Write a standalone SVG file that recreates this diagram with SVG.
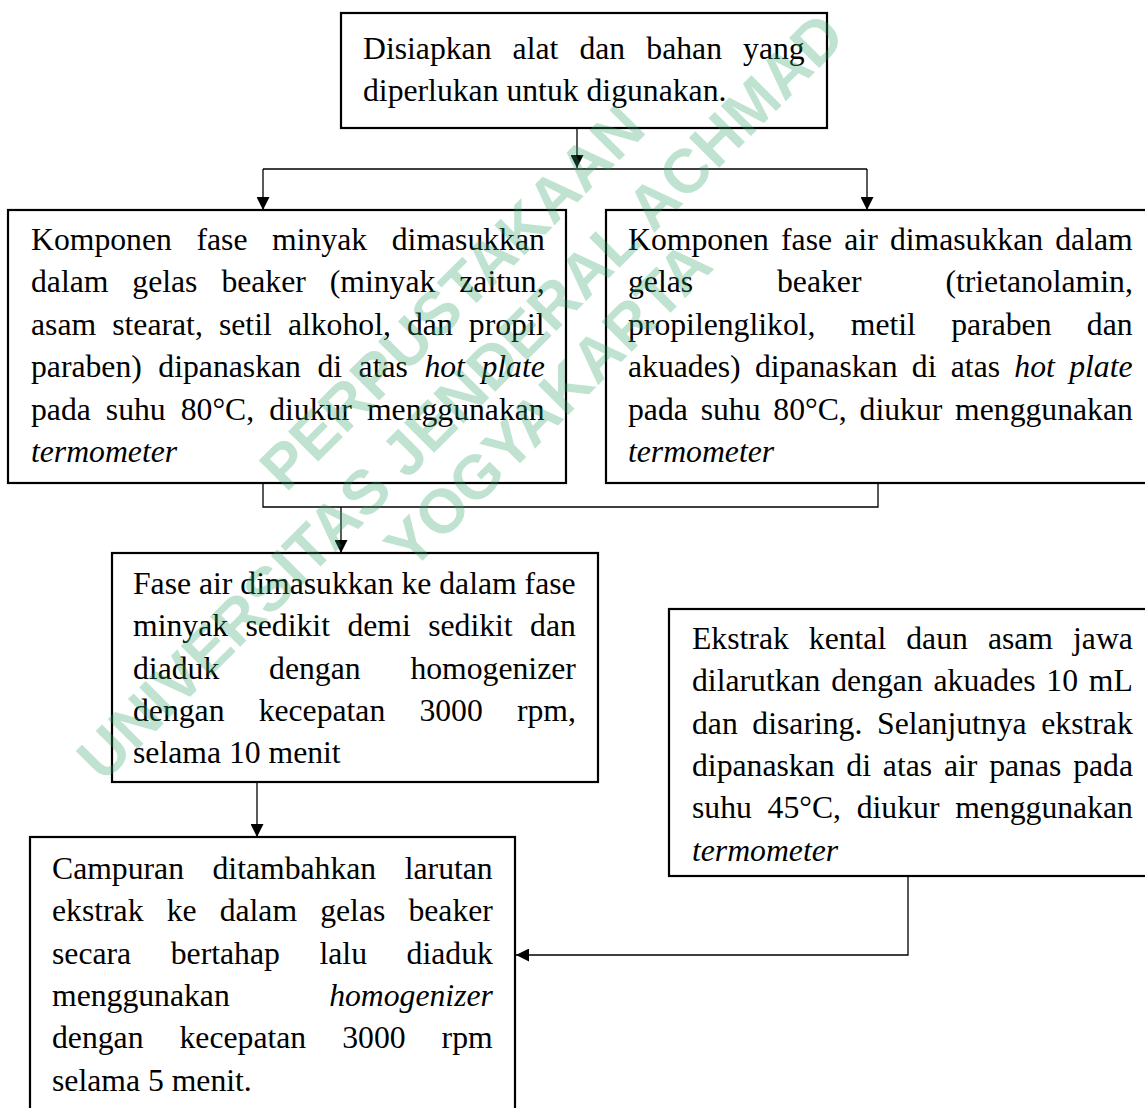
<svg xmlns="http://www.w3.org/2000/svg" width="1145" height="1108" viewBox="0 0 1145 1108">
<style>
.bg{fill:#fff}
.box{fill:none;stroke:#000;stroke-width:2.2}
.con{fill:none;stroke:#000;stroke-width:1.3}
.t{font-family:"Liberation Serif","Times New Roman",serif;font-size:31.7px;fill:#000}
.i{font-style:italic}
.wm{font-family:"Liberation Sans",Arial,sans-serif;font-weight:bold;font-size:62px;fill:#2ea064;fill-opacity:0.3;text-anchor:middle}
</style>
<defs>
<marker id="ah" markerUnits="userSpaceOnUse" markerWidth="13" markerHeight="13" refX="13" refY="6.5" orient="auto">
<path d="M0,0 L13,6.5 L0,13 z" fill="#000"/>
</marker>
</defs>
<rect class="bg" x="0" y="0" width="1145" height="1108"/>

<g id="connectors">
<path class="con" d="M577,128 V168" marker-end="url(#ah)"/>
<path class="con" d="M263,169 H867"/>
<path class="con" d="M263,169 V210" marker-end="url(#ah)"/>
<path class="con" d="M867,169 V210" marker-end="url(#ah)"/>
<path class="con" d="M263,483 V507 H878 V483"/>
<path class="con" d="M341,507 V553" marker-end="url(#ah)"/>
<path class="con" d="M257,782 V837" marker-end="url(#ah)"/>
<path class="con" d="M908,876 V955 H516" marker-end="url(#ah)"/>
</g>

<g id="n1">
<rect class="box" x="341" y="13" width="486" height="115"/>
<text class="t" x="363" y="59" style="word-spacing:13.2px">Disiapkan alat dan bahan yang</text>
<text class="t" x="363" y="101">diperlukan untuk digunakan.</text>
</g>

<g id="n2">
<rect class="box" x="8" y="210" width="558" height="273"/>
<text class="t" x="31" y="250" style="word-spacing:16.7px">Komponen fase minyak dimasukkan</text>
<text class="t" x="31" y="292.4" style="word-spacing:16.0px">dalam gelas beaker (minyak zaitun,</text>
<text class="t" x="31" y="334.8" style="word-spacing:8.2px">asam stearat, setil alkohol, dan propil</text>
<text class="t" x="31" y="377.2" style="word-spacing:8.6px">paraben) dipanaskan di atas <tspan class="i">hot plate</tspan></text>
<text class="t" x="31" y="419.6" style="word-spacing:7.1px">pada suhu 80°C, diukur menggunakan</text>
<text class="t i" x="31" y="462">termometer</text>
</g>

<g id="n3">
<rect class="box" x="606" y="210" width="560" height="273"/>
<text class="t" x="628" y="250" style="word-spacing:4.3px">Komponen fase air dimasukkan dalam</text>
<text class="t" x="628" y="292.4" style="word-spacing:76px">gelas beaker (trietanolamin,</text>
<text class="t" x="628" y="334.8" style="word-spacing:27.4px">propilenglikol, metil paraben dan</text>
<text class="t" x="628" y="377.2" style="word-spacing:6.4px">akuades) dipanaskan di atas <tspan class="i">hot plate</tspan></text>
<text class="t" x="628" y="419.6" style="word-spacing:4.9px">pada suhu 80°C, diukur menggunakan</text>
<text class="t i" x="628" y="462">termometer</text>
</g>

<g id="n4">
<rect class="box" x="112" y="553" width="486" height="229"/>
<text class="t" x="133" y="594">Fase air dimasukkan ke dalam fase</text>
<text class="t" x="133" y="636.3" style="word-spacing:9.5px">minyak sedikit demi sedikit dan</text>
<text class="t" x="133" y="678.6" style="word-spacing:41.9px">diaduk dengan homogenizer</text>
<text class="t" x="133" y="720.9" style="word-spacing:26.2px">dengan kecepatan 3000 rpm,</text>
<text class="t" x="133" y="763.2">selama 10 menit</text>
</g>

<g id="n5">
<rect class="box" x="669" y="609" width="500" height="267"/>
<text class="t" x="692" y="649" style="word-spacing:12.1px">Ekstrak kental daun asam jawa</text>
<text class="t" x="692" y="691.3" style="word-spacing:2.85px">dilarutkan dengan akuades 10 mL</text>
<text class="t" x="692" y="733.6" style="word-spacing:6.7px">dan disaring. Selanjutnya ekstrak</text>
<text class="t" x="692" y="775.9" style="word-spacing:3.9px">dipanaskan di atas air panas pada</text>
<text class="t" x="692" y="818.2" style="word-spacing:7.8px">suhu 45°C, diukur menggunakan</text>
<text class="t i" x="692" y="860.5">termometer</text>
</g>

<g id="n6">
<rect class="box" x="30" y="837" width="485" height="300"/>
<text class="t" x="52" y="879" style="word-spacing:20.6px">Campuran ditambahkan larutan</text>
<text class="t" x="52" y="921.3" style="word-spacing:15.2px">ekstrak ke dalam gelas beaker</text>
<text class="t" x="52" y="963.6" style="word-spacing:31.7px">secara bertahap lalu diaduk</text>
<text class="t" x="52" y="1005.9" style="word-spacing:91.5px">menggunakan <tspan class="i">homogenizer</tspan></text>
<text class="t" x="52" y="1048.2" style="word-spacing:28.1px">dengan kecepatan 3000 rpm</text>
<text class="t" x="52" y="1090.5">selama 5 menit.</text>
</g>

<g id="watermark" transform="rotate(-45 460 396)">
<text class="wm" x="524" y="342">PERPUSTAKAAN</text>
<text class="wm" x="460" y="418">UNIVERSITAS JENDERAL ACHMAD</text>
<text class="wm" x="516" y="486">YOGYAKARTA</text>
</g>
</svg>
